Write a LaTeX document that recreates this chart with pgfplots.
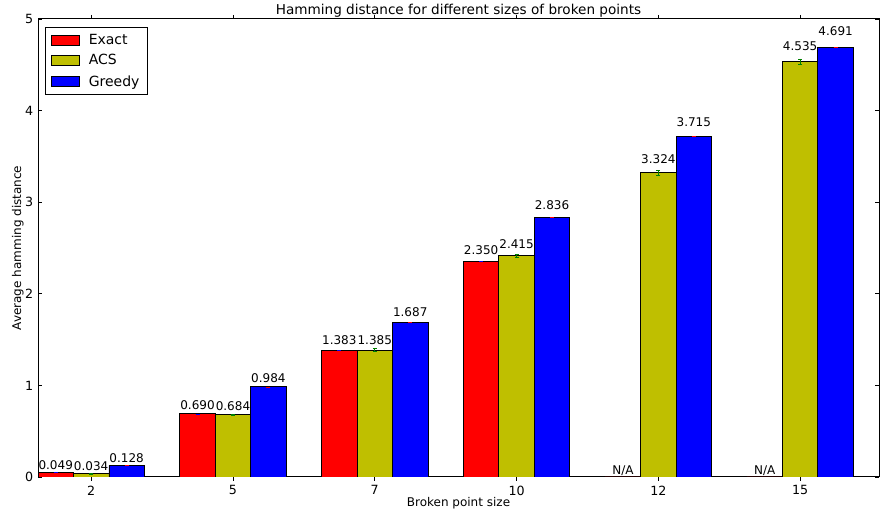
\documentclass[border=0pt]{standalone}
\usepackage{fontspec}
\setmainfont{DejaVu Sans}
\usepackage{pgfplots}
\usepackage{pgfplotstable}
\pgfplotsset{compat=1.18}
\definecolor{mplred}{rgb}{1,0,0}
\definecolor{mplyellow}{rgb}{0.75,0.75,0}
\definecolor{mplblue}{rgb}{0,0,1}
\definecolor{mplgreen}{rgb}{0,0.5,0}

\pgfplotstableread{
x y e lab
0 0.049 0 0.049
1 0.690 0 0.690
2 1.383 0 1.383
3 2.350 0 2.350
4 0     0 N/A
5 0     0 N/A
}\exact
\pgfplotstableread{
x y e lab
0 0.034 0.005 0.034
1 0.684 0.005 0.684
2 1.385 0.015 1.385
3 2.415 0.015 2.415
4 3.324 0.025 3.324
5 4.535 0.030 4.535
}\acs
\pgfplotstableread{
x y e lab
0 0.128 0 0.128
1 0.984 0 0.984
2 1.687 0 1.687
3 2.836 0 2.836
4 3.715 0 3.715
5 4.691 0 4.691
}\greedy

\begin{document}
\begin{tikzpicture}
\begin{axis}[
    scale only axis,
    width=630.75pt, height=343.5pt,
    xmin=-0.375, xmax=5.556,
    ymin=0, ymax=5,
    xtick={0,1,2,3,4,5},
    xticklabels={2,5,7,10,12,15},
    ytick={0,1,2,3,4,5},
    major tick length=3pt,
    tick style={black, line width=0.6pt},
    axis line style={line width=0.75pt},
    tick label style={font=\fontsize{9.5}{11}\selectfont},
    /pgf/number format/assume math mode=true,
    title={Hamming distance for different sizes of broken points},
    every axis title/.style={at={(axis description cs:0.5,1)}, anchor=base, yshift=3.5pt, font=\fontsize{10.2}{12}\selectfont},
    xlabel={Broken point size},
    every axis x label/.style={at={(axis description cs:0.5,0)}, anchor=base, yshift=-22.5pt, font=\fontsize{9}{10}\selectfont},
    ylabel={Average hamming distance},
    every axis y label/.style={at={(axis description cs:-0.0202,0.5)}, rotate=90, anchor=base, font=\fontsize{9}{10}\selectfont},
    ybar, bar width=0.25,
    every axis plot/.append style={draw=black, line width=0.6pt},
    point meta=explicit symbolic,
    visualization depends on={y \as \rawy},
    nodes near coords,
    nodes near coords style={anchor=base, inner sep=0pt, yshift={\rawy*1.374pt+2.2pt}, font=\fontsize{9}{11}\selectfont, text=black},
    error bars/y dir=both, error bars/y explicit,
    legend style={at={(0.0083,0.983)}, anchor=north west, draw=black, line width=0.6pt,
        font=\fontsize{10.5}{12}\selectfont, row sep=2.4pt, inner xsep=4pt, inner ysep=3pt},
    legend cell align=left,
    legend image code/.code={\draw[#1,draw=black,line width=0.5pt] (0pt,-3.75pt) rectangle (21.5pt,3.75pt);
        \path (26pt,0pt);},
]
\addplot[fill=mplred, bar shift=-0.25,
    error bars/error bar style={mplblue, line width=0.6pt},
    error bars/error mark options={rotate=90, mark size=1.5pt, mplblue}]
    table[x=x, y=y, y error=e, meta=lab] {\exact};
\addplot[fill=mplyellow, bar shift=0,
    error bars/error bar style={mplgreen, line width=0.6pt},
    error bars/error mark options={rotate=90, mark size=1.5pt, mplgreen}]
    table[x=x, y=y, y error=e, meta=lab] {\acs};
\addplot[fill=mplblue, bar shift=0.25,
    error bars/error bar style={mplred, line width=0.6pt},
    error bars/error mark options={rotate=90, mark size=1.5pt, mplred}]
    table[x=x, y=y, y error=e, meta=lab] {\greedy};
\legend{Exact, ACS, Greedy}
\end{axis}
\pgfresetboundingbox
\path ([shift={(-28.5pt,-26.25pt)}]current axis.south west) rectangle ([shift={(0.75pt,14.25pt)}]current axis.north east);
\end{tikzpicture}
\end{document}
